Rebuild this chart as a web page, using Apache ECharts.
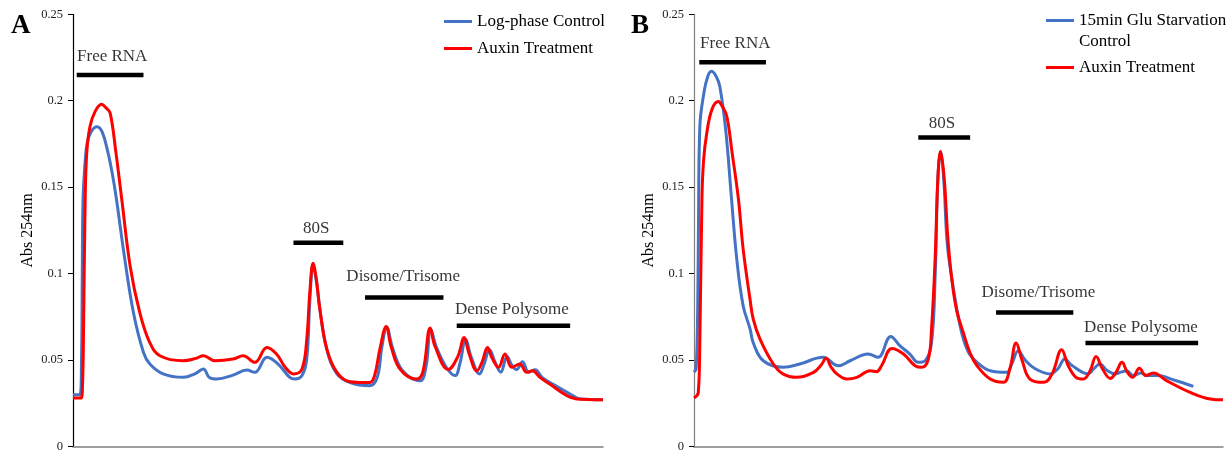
<!DOCTYPE html>
<html><head><meta charset="utf-8">
<script src="https://cdn.jsdelivr.net/npm/echarts@6/dist/echarts.min.js"></script>
<style>html,body{margin:0;padding:0;background:#fff}#c{width:1231px;height:453px}</style>
</head><body><div id="c"></div><script>
// Y axis ticks (Abs 254nm)
const yTicks = [0, 0.05, 0.1, 0.15, 0.2, 0.25];
// x = relative position along gradient (0-100), y = Abs 254nm
const aLogPhaseControl = [
 [0,0.030],[1.3,0.030],[1.6,0.048],[1.75,0.10],[1.9,0.143],[2.3,0.165],[2.7,0.176],[3.4,0.182],[4.5,0.185],
 [5.5,0.182],[6.6,0.170],[7.4,0.158],[8.2,0.143],[9.6,0.112],[11.4,0.0775],[13.3,0.0544],[14.5,0.0477],
 [17.0,0.042],[20.8,0.040],[23.0,0.042],[24.6,0.0448],[25.7,0.040],[27.1,0.039],[30.2,0.0413],[32.8,0.0442],
 [34.3,0.0429],[36.6,0.0516],[38.7,0.0477],[40.9,0.040],[41.9,0.039],[43.2,0.041],[44.1,0.0506],[44.7,0.085],
 [45.3,0.105],[45.9,0.096],[46.6,0.079],[47.9,0.056],[49.8,0.042],[52.3,0.037],[56.0,0.0352],[57.4,0.040],
 [58.3,0.058],[59.2,0.069],[60.2,0.058],[61.7,0.046],[63.6,0.040],[65.5,0.038],[66.6,0.046],[67.5,0.068],
 [68.5,0.058],[70.4,0.046],[72.1,0.041],[73.0,0.048],[74.1,0.062],[75.1,0.052],[76.7,0.042],[77.5,0.047],
 [78.6,0.056],[79.6,0.049],[80.7,0.043],[81.9,0.052],[82.8,0.047],[83.7,0.0445],[84.8,0.049],[86.0,0.043],
 [87.2,0.0444],[88.5,0.040],[90.6,0.036],[93.8,0.0304],[95.7,0.0275],[100,0.0271]
];
const aAuxinTreatment = [
 [0,0.028],[1.5,0.028],[1.8,0.036],[2.0,0.07],[2.3,0.143],[2.6,0.170],[3.2,0.185],[4.2,0.194],[5.4,0.198],
 [6.2,0.196],[7.0,0.193],[8.1,0.170],[9.2,0.143],[10.8,0.104],[12.6,0.0775],[14.5,0.060],[16.4,0.0525],
 [20.8,0.0496],[23.2,0.051],[24.6,0.0525],[26.8,0.0496],[30.2,0.0506],[32.1,0.0525],[34.3,0.0487],[36.6,0.0573],
 [38.4,0.0535],[40.0,0.046],[41.6,0.042],[43.2,0.0448],[44.1,0.062],[44.7,0.090],[45.3,0.106],[45.9,0.097],
 [46.6,0.079],[47.9,0.0563],[49.8,0.0429],[52.3,0.0375],[56.0,0.037],[56.9,0.041],[57.9,0.0563],[59.1,0.0694],
 [60.0,0.058],[61.7,0.0448],[64.8,0.039],[66.0,0.043],[67.4,0.0685],[68.3,0.058],[70.8,0.0445],[72.6,0.052],
 [73.8,0.063],[74.7,0.054],[76.2,0.0438],[77.2,0.049],[78.2,0.0573],[79.1,0.051],[80.3,0.0458],[81.5,0.0535],
 [82.8,0.0458],[84.3,0.0477],[85.6,0.0429],[86.7,0.0438],[88.1,0.040],[90.0,0.036],[93.2,0.0294],[95.0,0.0275],
 [100,0.0271]
];
const bGluStarvationControl = [
 [0,0.043],[0.4,0.045],[0.7,0.08],[0.85,0.13],[1.1,0.185],[1.9,0.205],[2.6,0.214],[3.3,0.217],[4.2,0.214],
 [4.9,0.208],[6.0,0.183],[7.1,0.143],[8.1,0.108],[9.3,0.0813],[10.6,0.068],[11.2,0.060],[13.1,0.0496],
 [16.9,0.0458],[20.0,0.0477],[24.4,0.0516],[27.3,0.0467],[29.5,0.0496],[32.9,0.0535],[34.8,0.0516],[37.2,0.0637],
 [38.9,0.0583],[40.8,0.0535],[42.4,0.0487],[43.7,0.0496],[44.9,0.060],[45.6,0.10],[46.1,0.155],[46.6,0.1707],
 [47.2,0.155],[47.8,0.12],[48.4,0.104],[50.3,0.0698],[51.8,0.055],[53.5,0.0487],[56.0,0.0438],[59.1,0.0429],
 [60.1,0.048],[61.3,0.0554],[62.6,0.050],[64.5,0.045],[67.3,0.042],[68.8,0.045],[70.1,0.0506],[71.4,0.047],
 [74.5,0.042],[75.6,0.045],[76.7,0.0477],[78.1,0.044],[79.6,0.042],[80.7,0.043],[81.8,0.0438],[83.0,0.041],
 [84.5,0.0425],[85.6,0.041],[87.5,0.041],[91.2,0.038],[94.4,0.0348]
];
const bAuxinTreatment = [
 [0,0.028],[0.8,0.031],[1.1,0.06],[1.5,0.143],[1.8,0.165],[2.4,0.181],[3.4,0.195],[4.6,0.1995],[5.3,0.197],
 [6.2,0.191],[7.2,0.170],[8.4,0.143],[9.3,0.114],[10.6,0.085],[11.2,0.0737],[12.5,0.062],[15.0,0.0477],
 [16.8,0.042],[19.4,0.040],[22.6,0.0429],[24.0,0.047],[25.0,0.051],[25.9,0.046],[27.0,0.042],[28.9,0.039],
 [30.8,0.040],[33.3,0.0438],[34.5,0.0433],[35.5,0.047],[37.4,0.0567],[39.6,0.0535],[41.8,0.0467],[43.0,0.0458],
 [44.3,0.0506],[44.9,0.068],[45.6,0.11],[46.1,0.155],[46.6,0.1707],[47.3,0.155],[48.0,0.12],[48.8,0.095],
 [49.7,0.078],[50.9,0.066],[52.2,0.054],[53.5,0.0467],[56.0,0.039],[58.5,0.0371],[59.7,0.0448],[60.9,0.0598],
 [62.0,0.050],[63.5,0.039],[66.1,0.0371],[67.7,0.042],[69.5,0.056],[70.7,0.047],[72.2,0.040],[73.6,0.039],
 [74.9,0.044],[76.0,0.052],[77.2,0.045],[78.7,0.0394],[79.8,0.043],[80.9,0.0487],[81.9,0.043],[82.9,0.040],
 [84.2,0.0452],[85.4,0.041],[86.8,0.0425],[89.4,0.038],[93.8,0.0313],[97.6,0.0275],[100,0.027]
];
// annotation bars: [xStart, xEnd, y]
const aBars = [[0.7,13.3,0.2149],[41.6,51.0,0.1179],[55.1,69.9,0.0862],[72.4,93.8,0.0698]];
const bBars = [[1.0,13.6,0.2223],[42.4,52.2,0.1788],[57.1,71.7,0.0775],[74.0,95.3,0.0598]];
// annotation labels: [text, xCenter, yCenter]
const aLabels = [['Free RNA',7.4,0.2255],['80S',45.9,0.1261],['Disome/Trisome',62.3,0.0986],['Dense Polysome',82.8,0.0794]];
const bLabels = [['Free RNA',7.8,0.2332],['80S',46.9,0.1871],['Disome/Trisome',65.1,0.0890],['Dense Polysome',84.5,0.0689]];

const FONT = "'Liberation Serif','Times New Roman',serif";
const BLUE = '#4472C4', RED = '#FF0000';
const chart = echarts.init(document.getElementById('c'), null, {renderer:'canvas'});

function yAxis(idx, axisColor){
  return {type:'value', gridIndex:idx, min:yTicks[0], max:yTicks[yTicks.length-1], interval:yTicks[1]-yTicks[0],
    name:'Abs 254nm', nameLocation:'middle', nameGap:37, nameRotate:90,
    nameTextStyle:{fontFamily:FONT, fontSize:16, color:'#000'},
    axisLine:{show:true, lineStyle:{color:axisColor, width:1.2}},
    axisTick:{show:true, length:5, lineStyle:{color:'#000'}},
    axisLabel:{fontFamily:FONT, fontSize:12.5, color:'#222', margin:10},
    splitLine:{show:false}};
}
function xAxis(idx){
  return {type:'value', gridIndex:idx, min:0, max:100,
    axisLine:{show:true, onZero:false, lineStyle:{color:'#7f7f7f', width:1.5}},
    axisTick:{show:false}, axisLabel:{show:false}, splitLine:{show:false}};
}
function lineSeries(name, idx, data, color, z){
  return {type:'line', name, xAxisIndex:idx, yAxisIndex:idx, data, smooth:0.4,
    symbol:'none', lineStyle:{color, width:3}, itemStyle:{color}, z};
}
function barSeries(idx, data){
  return {type:'custom', xAxisIndex:idx, yAxisIndex:idx, silent:true, z:5,
    renderItem:(params, api)=>{
      const p1 = api.coord([api.value(0), api.value(2)]);
      const p2 = api.coord([api.value(1), api.value(2)]);
      return {type:'line', shape:{x1:p1[0], y1:p1[1], x2:p2[0], y2:p2[1]}, style:{stroke:'#000', lineWidth:4.5}};
    },
    encode:{x:[0,1], y:2}, data};
}
function labelSeries(idx, labels){
  return {type:'scatter', xAxisIndex:idx, yAxisIndex:idx, silent:true, symbolSize:0, z:6,
    label:{show:true, position:'inside', formatter:p=>p.name, color:'#000', fontFamily:FONT, fontSize:17},
    data: labels.map(l=>({name:l[0], value:[l[1], l[2]]}))};
}
const legendText = {fontFamily:FONT, fontSize:17, color:'#000', lineHeight:21};
const legendNames = {
  'Log-phase Control':'Log-phase Control',
  'Auxin Treatment A':'Auxin Treatment',
  '15min Glu Starvation Control':'\u00a0\n15min Glu Starvation\nControl',
  'Auxin Treatment B':'Auxin Treatment'
};
chart.setOption({
  animation:false,
  backgroundColor:'#fff',
  grid:[
    {left:73, right:628, top:14.3, bottom:5.3},
    {left:694, right:8, top:14.3, bottom:5.3}
  ],
  xAxis:[xAxis(0), xAxis(1)],
  yAxis:[yAxis(0,'#000'), yAxis(1,'#808080')],
  legend:[
    {orient:'vertical', left:444, top:11, padding:0, itemGap:6, itemWidth:28, itemHeight:3, icon:'rect',
     textStyle:legendText, formatter:n=>legendNames[n], data:['Log-phase Control','Auxin Treatment A']},
    {orient:'vertical', left:1046, top:-11, padding:0, itemGap:5, itemWidth:28, itemHeight:3, icon:'rect',
     textStyle:legendText, formatter:n=>legendNames[n],
     data:['15min Glu Starvation Control','Auxin Treatment B']}
  ],
  graphic:[
    {type:'text', left:11, top:13, style:{text:'A', font:"bold 27px "+FONT, fill:'#000'}},
    {type:'text', left:631, top:13, style:{text:'B', font:"bold 27px "+FONT, fill:'#000'}}
  ],
  series:[
    lineSeries('Log-phase Control',0,aLogPhaseControl,BLUE,2),
    lineSeries('Auxin Treatment A',0,aAuxinTreatment,RED,3),
    lineSeries('15min Glu Starvation Control',1,bGluStarvationControl,BLUE,2),
    lineSeries('Auxin Treatment B',1,bAuxinTreatment,RED,3),
    barSeries(0,aBars), barSeries(1,bBars),
    labelSeries(0,aLabels), labelSeries(1,bLabels)
  ]
});
</script></body></html>
